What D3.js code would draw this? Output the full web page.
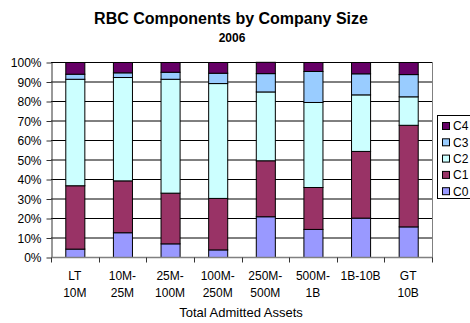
<!DOCTYPE html>
<html>
<head>
<meta charset="utf-8">
<script src="https://cdn.jsdelivr.net/npm/d3@7"></script>
<style>
  html, body { margin: 0; padding: 0; background: #fff; }
  svg { display: block; font-family: Arial, "Liberation Sans", sans-serif; }
</style>
</head>
<body>
<svg id="chart" width="470" height="323"></svg>
<script>
// Company size buckets (two-line labels)
const categories = [
  ["LT", "10M"], ["10M-", "25M"], ["25M-", "100M"], ["100M-", "250M"],
  ["250M-", "500M"], ["500M-", "1B"], ["1B-10B"], ["GT", "10B"]
];
const seriesNames = ["C0", "C1", "C2", "C3", "C4"];
// Share of RBC by component, percent of total
const c0 = [4.3, 12.7, 7.0, 3.9, 20.9, 14.4, 20.2, 15.7];
const c1 = [32.5, 26.6, 26.0, 26.4, 28.7, 21.5, 34.2, 52.1];
const c2 = [54.6, 53.0, 58.4, 58.9, 35.3, 43.6, 29.0, 14.6];
const c3 = [2.6, 2.4, 3.6, 5.3, 9.4, 15.9, 10.8, 11.4];
const c4 = [6.0, 5.3, 5.0, 5.5, 5.8, 4.6, 5.8, 6.2];
const yTicks = [0, 10, 20, 30, 40, 50, 60, 70, 80, 90, 100];
const colors = ["#9999FF", "#993366", "#CCFFFF", "#99CCFF", "#660066"];

const seriesValues = [c0, c1, c2, c3, c4];
const rows = categories.map((c, i) => {
  const r = { key: i };
  seriesNames.forEach((s, j) => { r[s] = seriesValues[j][i]; });
  return r;
});

const svg = d3.select("#chart");
const plot = { left: 51, right: 432, top: 62, bottom: 257 };

const x = d3.scaleBand().domain(d3.range(categories.length))
  .range([plot.left, plot.right]).paddingInner(0.6).paddingOuter(0.3);
const xOuter = d3.scaleBand().domain(d3.range(categories.length))
  .range([plot.left, plot.right]);
const y = d3.scaleLinear().domain([0, 100]).range([plot.bottom, plot.top]);

// Title
svg.append("text").attr("x", 231).attr("y", 23.5).attr("text-anchor", "middle")
  .attr("font-size", 16).attr("font-weight", "bold").text("RBC Components by Company Size");
svg.append("text").attr("x", 232).attr("y", 41.5).attr("text-anchor", "middle")
  .attr("font-size", 12).attr("font-weight", "bold").text("2006");

// Horizontal gridlines
svg.append("g").selectAll("line").data(yTicks.filter(t => t > 0)).join("line")
  .attr("x1", plot.left).attr("x2", plot.right)
  .attr("y1", d => y(d) + 0.5).attr("y2", d => y(d) + 0.5)
  .attr("stroke", "#000").attr("stroke-width", 1);

// Right border of plot area
svg.append("line").attr("x1", plot.right + 0.5).attr("x2", plot.right + 0.5)
  .attr("y1", plot.top).attr("y2", plot.bottom).attr("stroke", "#808080");

// Stacked bars
const stack = d3.stack().keys(seriesNames)(rows);
svg.append("g").selectAll("g").data(stack).join("g")
  .attr("fill", (d, i) => colors[i])
  .selectAll("rect").data(d => d).join("rect")
  .attr("x", (d, i) => x(i) + 0.5)
  .attr("width", x.bandwidth())
  .attr("y", d => y(d[1]) + 0.5)
  .attr("height", d => y(d[0]) - y(d[1]))
  .attr("stroke", "#000").attr("stroke-width", 1);

// Y axis
const yAxis = d3.axisLeft(y).tickValues(yTicks).tickFormat(d => d + "%")
  .tickSize(5).tickSizeOuter(0);
const gy = svg.append("g").attr("transform", `translate(${plot.left + 0.5},0.5)`).call(yAxis);
gy.select(".domain").attr("stroke", "#333");
gy.selectAll(".tick line").attr("stroke", "#333");
gy.selectAll("text").attr("font-size", 12).attr("fill", "#000")
  .attr("font-family", "Arial, 'Liberation Sans', sans-serif").attr("x", -10).attr("dy", "0.35em");

// X axis: ticks at category boundaries
const gx = svg.append("g").attr("transform", `translate(0,${plot.bottom + 0.5})`);
gx.append("line").attr("x1", plot.left).attr("x2", plot.right + 1)
  .attr("stroke", "#808080").attr("stroke-width", 1.5);
const boundaries = d3.range(categories.length + 1).map(i =>
  i < categories.length ? xOuter(i) : xOuter(categories.length - 1) + xOuter.bandwidth());
gx.selectAll("line.tk").data(boundaries).join("line").attr("class", "tk")
  .attr("x1", d => Math.round(d) + 0.5).attr("x2", d => Math.round(d) + 0.5)
  .attr("y1", 0).attr("y2", 5).attr("stroke", "#333");

// Category labels
const lbl = svg.append("g").selectAll("text").data(categories).join("text")
  .attr("text-anchor", "middle").attr("font-size", 12)
  .attr("transform", (d, i) => `translate(${xOuter(i) + xOuter.bandwidth() / 2},280)`);
lbl.selectAll("tspan").data(d => d).join("tspan")
  .attr("x", 0).attr("y", (d, j) => j * 16.5).text(d => d);

svg.append("text").attr("x", 241).attr("y", 317).attr("text-anchor", "middle")
  .attr("font-size", 13).text("Total Admitted Assets");

// Legend (C4 on top)
const legend = svg.append("g");
legend.append("rect").attr("x", 437.5).attr("y", 115.5).attr("width", 40).attr("height", 83)
  .attr("fill", "#fff").attr("stroke", "#000");
const items = legend.selectAll("g").data(seriesNames.slice().reverse()).join("g")
  .attr("transform", (d, i) => `translate(442,${126 + i * 16.3})`);
items.append("rect").attr("x", 0.5).attr("y", -3.5).attr("width", 7).attr("height", 7)
  .attr("fill", d => colors[seriesNames.indexOf(d)]).attr("stroke", "#000");
items.append("text").attr("x", 11).attr("y", 0).attr("dy", "0.36em")
  .attr("font-size", 12).text(d => d);
</script>
</body>
</html>
